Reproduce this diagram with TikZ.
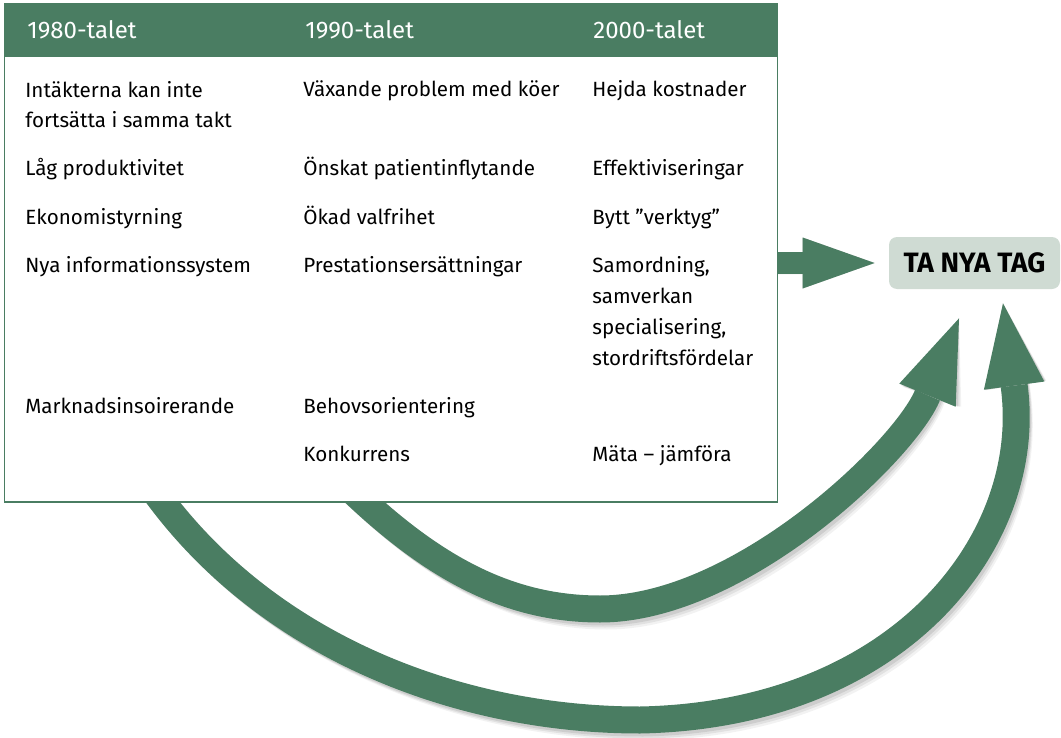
\documentclass[tikz,border=0pt]{standalone}
\usepackage{fontspec}
\setmainfont{Fira Sans}
\usetikzlibrary{arrows.meta,positioning,calc}
\definecolor{tidgreen}{HTML}{4A7D62}
\definecolor{tagfill}{HTML}{CFDBD3}
\tikzset{
  cell/.style={anchor=base west, inner sep=0pt, align=left, font=\fontsize{10.3}{15.5}\selectfont},
  headcell/.style={anchor=base west, inner sep=0pt, text=white, font=\fontsize{12}{15}\selectfont},
  bendarrow/.style={draw=tidgreen, line width=13.5pt, -{Triangle[length=41.5pt,width=30.5pt,line width=0pt]}},
  flatarrow/.style={draw=tidgreen, line width=11pt, -{Triangle[length=36pt,width=25.5pt,line width=0pt]}},
  tagbox/.style={fill=tagfill, rounded corners=4pt, minimum width=85.5pt, minimum height=26pt, inner sep=0pt, font=\bfseries\fontsize{14}{16}\selectfont},
}
\begin{document}
\begin{tikzpicture}[x=0.5pt,y=-0.5pt]
\useasboundingbox (0,0) rectangle (1061,738);
\node[tagbox] (tag) at (974.5,263) {TA NYA TAG};
\coordinate (startA) at (330,469);
\coordinate (startB) at (140,470);
\coordinate (tipA) at ([shift={(-15.5,29)}]tag.south);
\coordinate (tipB) at ([shift={(28.5,14)}]tag.south);
% shadows of the two bent arrows
\foreach \s/\o in {7/0.05,5/0.07,3/0.09}{
  \begin{scope}[transparency group, opacity=\o, shift={(\s,\s)}]
    \draw[bendarrow, draw=black] (startA) .. controls (420,560) and (500,609) .. (600,609) .. controls (740,609) and (905,450) .. (tipA);
    \draw[bendarrow, draw=black] (startB) .. controls (250,640) and (450,720) .. (640,720) .. controls (900,715) and (1035,540) .. (tipB);
  \end{scope}
}
\draw[bendarrow] (startA) .. controls (420,560) and (500,609) .. (600,609) .. controls (740,609) and (905,450) .. (tipA);
\draw[bendarrow] (startB) .. controls (250,640) and (450,720) .. (640,720) .. controls (900,715) and (1035,540) .. (tipB);
% the table
\node (table) [draw=tidgreen, line width=0.75pt, fill=white, anchor=north west, inner sep=0pt, minimum width=386.5pt, minimum height=249pt] at (3.5,3) {};
\node (head) [fill=tidgreen, anchor=north west, inner sep=0pt, minimum width=386.5pt, minimum height=27pt] at (table.north west) {};
\node[headcell] (h80) at (27,39) {1980-talet};
\node[headcell] (h90) at (305,39) {1990-talet};
\node[headcell] (h00) at (593,39) {2000-talet};
% multi-line cells sit on their last baseline
\node[cell] (a1) at (25,128) {Intäkterna kan inte\\fortsätta i samma takt};
\node[cell] (a2) at (25,176) {Låg produktivitet};
\node[cell] (a3) at (25,224) {Ekonomistyrning};
\node[cell] (a4) at (25,272) {Nya informationssystem};
\node[cell] (a5) at (25,413) {Marknadsinsoirerande};
\node[cell] (b1) at (303,97) {Växande problem med köer};
\node[cell] (b2) at (303,176) {Önskat patientinflytande};
\node[cell] (b3) at (303,224) {Ökad valfrihet};
\node[cell] (b4) at (303,272) {Prestationsersättningar};
\node[cell] (b5) at (303,413) {Behovsorientering};
\node[cell] (b6) at (303,461) {Konkurrens};
\node[cell] (c1) at (592,97) {Hejda kostnader};
\node[cell] (c2) at (592,176) {Effektiviseringar};
\node[cell] (c3) at (592,224) {Bytt ”verktyg”};
\node[cell] (c4) at (592,365) {Samordning,\\samverkan\\specialisering,\\stordriftsfördelar};
\node[cell] (c6) at (592,461) {Mäta – jämföra};
% short arrow into the tag
\foreach \s/\o in {7/0.05,5/0.07,3/0.09}{
  \begin{scope}[transparency group, opacity=\o, shift={(\s,\s)}]
    \draw[flatarrow, draw=black, shorten >=7pt] (table.east |- tag.west) -- (tag.west);
  \end{scope}
}
\draw[flatarrow, shorten >=7pt] (table.east |- tag.west) -- (tag.west);
\end{tikzpicture}
\end{document}
